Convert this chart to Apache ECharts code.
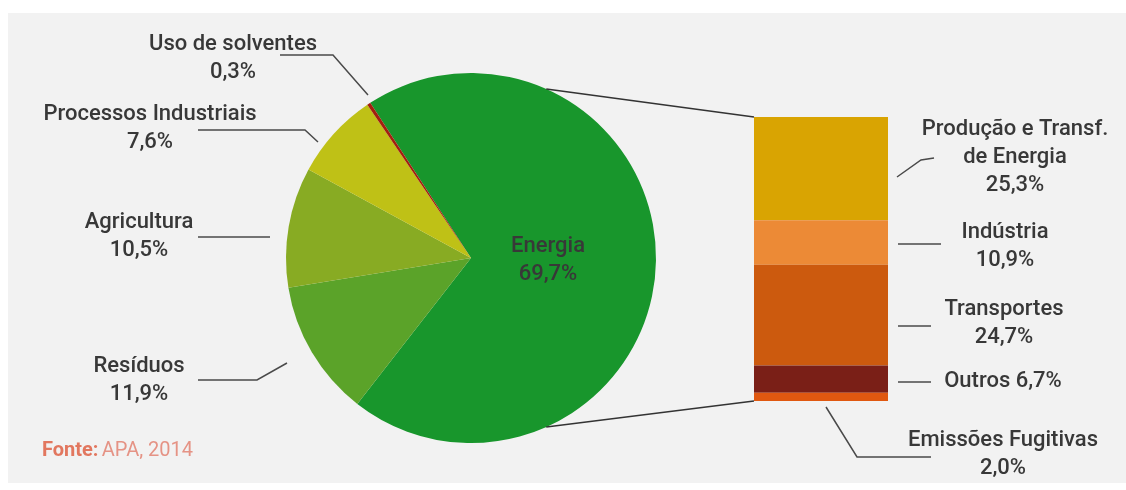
<!DOCTYPE html>
<html>
<head>
<meta charset="utf-8">
<script src="https://cdn.jsdelivr.net/npm/echarts@6/dist/echarts.min.js"></script>
<style>
html,body{margin:0;padding:0;background:#ffffff;}
#chart{width:1126px;height:490px;}
</style>
</head>
<body>
<div id="chart"></div>
<script>
// ---- data ----
var pieNames = ['Energia', 'Resíduos', 'Agricultura', 'Processos Industriais', 'Uso de solventes'];
var pieValues = [69.7, 11.9, 10.5, 7.6, 0.3];
var barNames = ['Produção e Transf.\nde Energia', 'Indústria', 'Transportes', 'Outros', 'Emissões Fugitivas'];
var barValues = [25.3, 10.9, 24.7, 6.7, 2.0];
var sourceLabel = 'Fonte:';
var sourceText = 'APA, 2014';

// ---- styling / layout ----
var pieColors = ['#18962c', '#5ba329', '#88ab23', '#bfc116', '#a3200f'];
var barColors = ['#d9a402', '#ec8a36', '#cc5a0e', '#7a1f17', '#e05810'];
var textColor = '#383838';
var FONT = 'Roboto, "Noto Sans", sans-serif';
var FS = 22;
var pieCenter = [471, 258];
var pieRadius = 185;
var pieStart = 123;
var barGrid = {left: 754, top: 117, width: 134, height: 284};
var pieLabelPos = [[548, 260], [139, 380], [139, 236], [150, 128], [233, 58]];
var barLabelPos = [[1015, 157], [1005, 246], [1004, 323], [1003, 381], [1003, 454]];
var leaderLines = [
  [[280, 55], [333, 55], [368, 95]],
  [[198, 130], [305, 130], [318, 142]],
  [[198, 237], [270, 237]],
  [[198, 380], [257, 380], [287, 363]],
  [[897, 177], [921, 160], [934, 158]],
  [[898, 244], [941, 244]],
  [[898, 326], [931, 326]],
  [[898, 382], [931, 382]],
  [[826, 407], [857, 457], [931, 457]]
];

function fmt(v) { return v.toFixed(1).replace('.', ',') + '%'; }

var barTotal = barValues.reduce(function (a, b) { return a + b; }, 0);

var series = [];
series.push({
  type: 'pie',
  center: pieCenter,
  radius: pieRadius,
  startAngle: pieStart,
  clockwise: true,
  silent: true,
  avoidLabelOverlap: false,
  data: pieNames.map(function (n, i) {
    return {name: n, value: pieValues[i], itemStyle: {color: pieColors[i]}};
  }),
  label: {
    show: true,
    position: 'outside',
    formatter: function (p) { return p.name + '\n' + fmt(p.value); },
    color: textColor,
    fontFamily: FONT,
    fontSize: FS,
    fontWeight: 500,
    lineHeight: 28,
    align: 'center'
  },
  labelLine: {show: false},
  labelLayout: function (p) {
    var pos = pieLabelPos[p.dataIndex];
    return {x: pos[0], y: pos[1], align: 'center', verticalAlign: 'middle'};
  }
});

barNames.forEach(function (n, i) {
  series.push({
    type: 'bar',
    name: n,
    stack: 'energia',
    barWidth: '100%',
    silent: true,
    data: [barValues[i]],
    itemStyle: {color: barColors[i]},
    label: {
      show: true,
      position: 'right',
      formatter: function () {
        return n === 'Outros' ? n + ' ' + fmt(barValues[i]) : n + '\n' + fmt(barValues[i]);
      },
      color: textColor,
      fontFamily: FONT,
      fontSize: FS,
      fontWeight: 500,
      lineHeight: 28,
      align: 'center'
    },
    labelLayout: function () {
      var pos = barLabelPos[i];
      return {x: pos[0], y: pos[1], align: 'center', verticalAlign: 'middle'};
    }
  });
});

// connector lines from pie (Energia slice) to bar corners
var cAng = 66 * Math.PI / 180;
var pTop = [pieCenter[0] + pieRadius * Math.cos(cAng), pieCenter[1] - pieRadius * Math.sin(cAng)];
var pBot = [pieCenter[0] + pieRadius * Math.cos(cAng), pieCenter[1] + pieRadius * Math.sin(cAng)];

var graphics = [
  {type: 'rect', z: -10, silent: true, shape: {x: 8, y: 13, width: 1118, height: 470}, style: {fill: '#f2f2f2'}},
  {type: 'polyline', z: 5, silent: true, shape: {points: [pTop, [barGrid.left, barGrid.top]]}, style: {stroke: '#333333', lineWidth: 1.6, fill: null}},
  {type: 'polyline', z: 5, silent: true, shape: {points: [pBot, [barGrid.left, barGrid.top + barGrid.height]]}, style: {stroke: '#333333', lineWidth: 1.6, fill: null}},
  {type: 'text', silent: true, left: 42, top: 441, style: {
    text: '{b|' + sourceLabel + '} {n|' + sourceText + '}',
    rich: {
      b: {fontFamily: FONT, fontSize: 20, fontWeight: 'bold', fill: '#e2775f'},
      n: {fontFamily: FONT, fontSize: 20, fill: '#e59385'}
    }
  }}
];
leaderLines.forEach(function (pts) {
  graphics.push({type: 'polyline', z: 5, silent: true, shape: {points: pts}, style: {stroke: '#4a4a4a', lineWidth: 1.5, fill: null}});
});

var chart = echarts.init(document.getElementById('chart'), null, {renderer: 'canvas'});
chart.setOption({
  animation: false,
  backgroundColor: '#ffffff',
  grid: {left: barGrid.left, top: barGrid.top, width: barGrid.width, height: barGrid.height, containLabel: false},
  xAxis: {type: 'category', data: ['Energia'], show: false},
  yAxis: {type: 'value', min: 0, max: barTotal, inverse: true, show: false},
  graphic: graphics,
  series: series
});
</script>
</body>
</html>
